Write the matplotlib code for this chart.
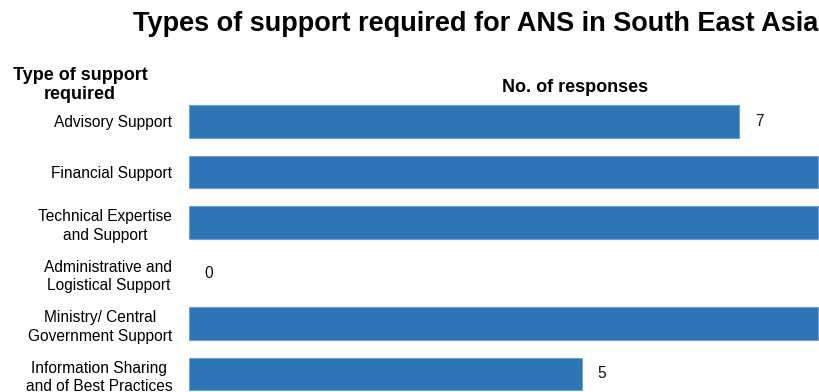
import matplotlib
matplotlib.use("Agg")
import matplotlib.pyplot as plt

plt.rcParams['font.family'] = ['Liberation Sans', 'DejaVu Sans']

categories = ["Advisory Support", "Financial Support", "Technical Expertise\nand Support",
              "Administrative and\nLogistical Support", "Ministry/ Central\nGovernment Support",
              "Information Sharing\nand of Best Practices"]
responses = [7, 8, 8, 0, 8, 5]
shown_labels = [True, False, False, True, False, True]

W, H = 819, 392
fig = plt.figure(figsize=(W / 100, H / 100), dpi=100)
ax_left, ax_top, ax_bottom = 189, 96, 392
ax = fig.add_axes([ax_left / W, (H - ax_bottom) / H, (W - ax_left) / W, (ax_bottom - ax_top) / H])

unit = 78.6
ax.set_xlim(0, (W - ax_left) / unit)
y0, dy = 121.5, 50.5
ax.set_ylim((ax_bottom - y0) / dy, (ax_top - y0) / dy)

ypos = list(range(len(categories)))
ax.barh(ypos, responses, height=0.64, color="#2E75B6", edgecolor="#6FA0D3",
        linewidth=[0.8 if v > 0 else 0 for v in responses])
for y, v, show in zip(ypos, responses, shown_labels):
    if show:
        ax.text(v + 0.2, y, str(v), va="center", ha="left", fontsize=11.2, color="#111111")

ax.set_yticks(ypos)
ax.set_yticklabels(categories, fontsize=11.2, linespacing=1.3, multialignment="center")
ax.tick_params(axis="y", length=0, pad=12)
ax.set_xticks([])
for s in ax.spines.values():
    s.set_visible(False)

fig.text(476 / W, 1 - 24 / H, "Types of support required for ANS in South East Asia",
         fontsize=19.5, fontweight="bold", ha="center", va="center")
fig.text(80 / W, 1 - 85 / H, "Type of support\nrequired", fontsize=13, fontweight="bold",
         ha="center", va="center", linespacing=1.22)
fig.text(575 / W, 1 - 87 / H, "No. of responses", fontsize=13, fontweight="bold",
         ha="center", va="center")

fig.savefig("out.png", dpi=100)
